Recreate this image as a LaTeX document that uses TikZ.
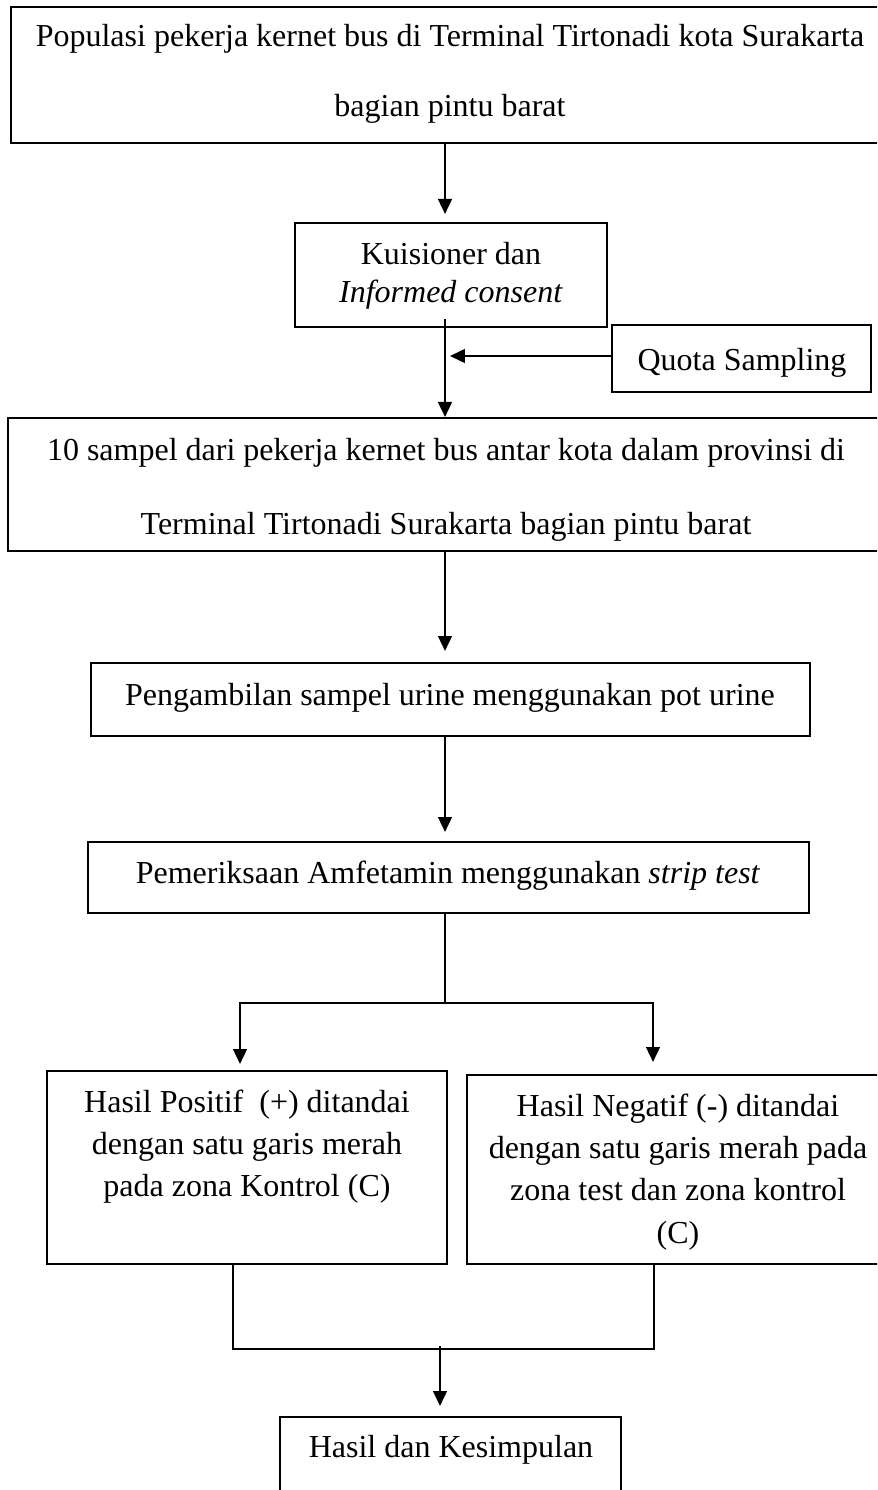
\documentclass[tikz,border=0pt]{standalone}
\usepackage{fontspec}
\setmainfont{Liberation Serif}
\usetikzlibrary{arrows.meta,fit,calc}
\begin{document}
\begin{tikzpicture}[x=0.375pt,y=-0.375pt,
  box/.style={draw,line width=0.8pt,inner sep=0pt,rectangle},
  txt/.style={inner sep=0pt,align=center,anchor=north,font=\fontsize{12pt}{#1}\selectfont},
  txt/.default=14pt,
  conn/.style={line width=0.7pt},
  arr/.style={line width=0.7pt,-{Triangle[length=5.6pt,width=5.2pt]}}]
\useasboundingbox (0,0) rectangle (877,1490);
\clip (0,0) rectangle (877,1490);
\coordinate (col) at (445,0);
\coordinate (tipc) at (450,0);
\coordinate (qy) at (0,356);

\node[box,fit={(11,7)(889,143)}] (top) {};
\node[txt=26.25pt] (toptx) at (450,24) {Populasi pekerja kernet bus di Terminal Tirtonadi kota Surakarta\\bagian pintu barat};

\node[box,fit={(295,223)(607,327)}] (kuis) {};
\node[txt=14.25pt] (kuistx) at (451,242) {Kuisioner dan\\\textit{Informed consent}};

\node[box,fit={(612,325)(871,392)}] (quota) {};
\node[txt] (quotatx) at (742,348) {Quota Sampling};

\node[box,fit={(8,418)(885,551)}] (s10) {};
\node[txt=27.75pt] (s10tx) at (446,438) {10 sampel dari pekerja kernet bus antar kota dalam provinsi di\\Terminal Tirtonadi Surakarta bagian pintu barat};

\node[box,fit={(91,663)(810,736)}] (urine) {};
\node[txt] (urinetx) at (450,683) {Pengambilan sampel urine menggunakan pot urine};

\node[box,fit={(88,842)(809,913)}] (strip) {};
\node[txt] (striptx) at (448,860) {Pemeriksaan Amfetamin menggunakan \textit{strip test}};

\node[box,fit={(47,1071)(447,1264)}] (pos) {};
\node[txt=15.9pt] (postx) at (247,1089) {Hasil Positif~ (+) ditandai\\dengan satu garis merah\\pada zona Kontrol (C)};

\node[box,fit={(467,1075)(889,1264)}] (neg) {};
\node[txt=15.9pt] (negtx) at (678,1093) {Hasil Negatif (-) ditandai\\dengan satu garis merah pada\\zona test dan zona kontrol\\(C)};

\node[box,fit={(280,1417)(621,1530)}] (hasil) {};
\node[txt] (hasiltx) at (451,1435) {Hasil dan Kesimpulan};

% connectors
\draw[arr] (top.south -| col) -- ($(kuis.north -| col)+(0,-8)$);
\draw[arr] ($(kuis.south -| col)+(0,-9)$) -- (s10.north -| col);
\draw[arr] (quota.west |- qy) -- (tipc |- qy);
\draw[arr] (s10.south -| col) -- ($(urine.north -| col)+(0,-11)$);
\draw[arr] (urine.south -| col) -- ($(strip.north -| col)+(0,-9)$);

\coordinate (bl) at (240,1003);
\coordinate (br) at (653,1003);
\draw[conn] (strip.south -| col) -- (col |- bl);
\draw[arr] (col |- bl) -- (bl) -- ($(bl |- pos.north)+(0,-6)$);
\draw[arr] (col |- br) -- (br) -- ($(br |- neg.north)+(0,-12)$);

\coordinate (ml) at (233,1349);
\coordinate (mr) at (654,1349);
\coordinate (mc) at (440,1346);
\draw[conn] (pos.south -| ml) -- (ml) -- (mr) -- (neg.south -| mr);
\draw[arr] (mc) -- ($(hasil.north -| mc)+(0,-10)$);
\end{tikzpicture}
\end{document}
